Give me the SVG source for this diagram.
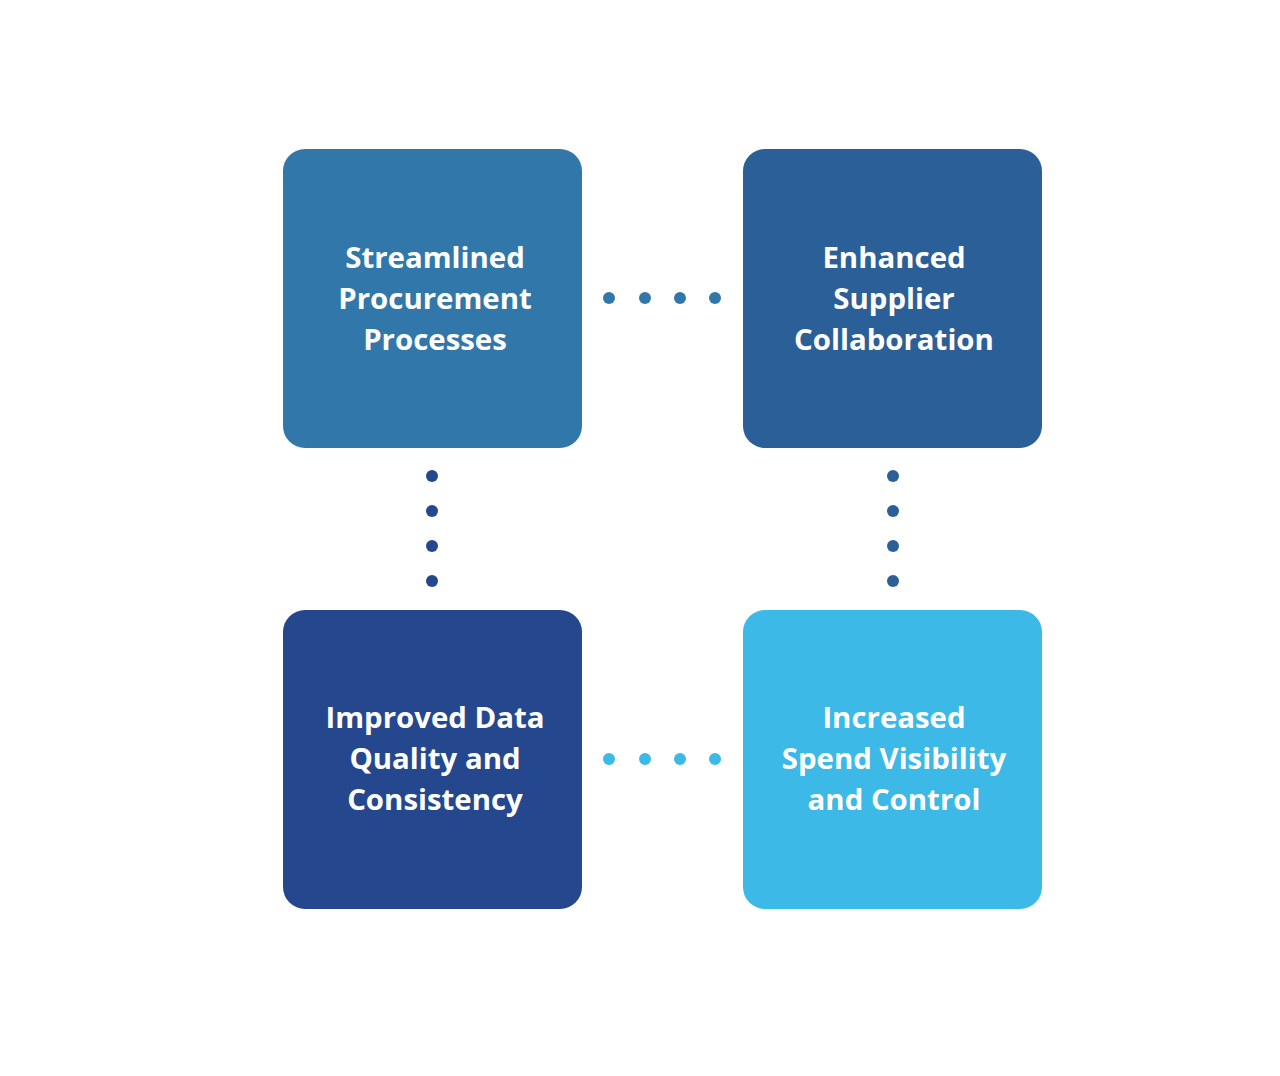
<svg xmlns="http://www.w3.org/2000/svg" width="1280" height="1076" viewBox="0 0 1280 1076">
<style>
.t{font-family:"Open Sans","Noto Sans","Liberation Sans",sans-serif;font-weight:700;font-size:29.4px;fill:#ffffff;text-anchor:middle}
</style>
<rect width="1280" height="1076" fill="#ffffff"/>
<g id="connectors">
<g fill="#3277AA"><circle cx="609" cy="298" r="6"/><circle cx="645" cy="298" r="6"/><circle cx="680" cy="298" r="6"/><circle cx="715" cy="298" r="6"/></g>
<g fill="#25478D"><circle cx="432" cy="476" r="6"/><circle cx="432" cy="511" r="6"/><circle cx="432" cy="546" r="6"/><circle cx="432" cy="581" r="6"/></g>
<g fill="#2B5F98"><circle cx="893" cy="476" r="6"/><circle cx="893" cy="511" r="6"/><circle cx="893" cy="546" r="6"/><circle cx="893" cy="581" r="6"/></g>
<g fill="#3CB9E6"><circle cx="609" cy="759" r="6"/><circle cx="645" cy="759" r="6"/><circle cx="680" cy="759" r="6"/><circle cx="715" cy="759" r="6"/></g>
</g>
<g id="node-streamlined">
<rect x="283" y="149" width="299" height="299" rx="22" fill="#3277AA"/>
<text class="t" x="435" y="268">Streamlined</text>
<text class="t" x="435" y="309">Procurement</text>
<text class="t" x="435" y="350">Processes</text>
</g>
<g id="node-enhanced">
<rect x="743" y="149" width="299" height="299" rx="22" fill="#2B5F98"/>
<text class="t" x="894" y="268">Enhanced</text>
<text class="t" x="894" y="309">Supplier</text>
<text class="t" x="894" y="350">Collaboration</text>
</g>
<g id="node-improved">
<rect x="283" y="610" width="299" height="299" rx="22" fill="#25478D"/>
<text class="t" x="435" y="728">Improved Data</text>
<text class="t" x="435" y="769">Quality and</text>
<text class="t" x="435" y="810">Consistency</text>
</g>
<g id="node-increased">
<rect x="743" y="610" width="299" height="299" rx="22" fill="#3CB9E6"/>
<text class="t" x="894" y="728">Increased</text>
<text class="t" x="894" y="769">Spend Visibility</text>
<text class="t" x="894" y="810">and Control</text>
</g>
</svg>
